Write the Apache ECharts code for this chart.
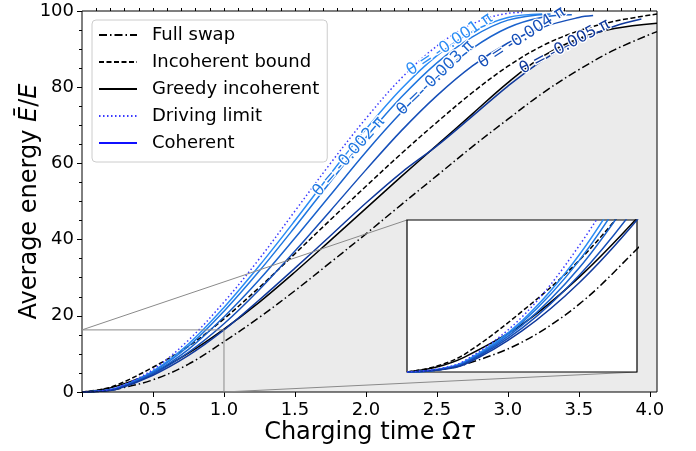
<!DOCTYPE html>
<html>
<head>
<meta charset="utf-8">
<script src="https://cdn.jsdelivr.net/npm/echarts@6/dist/echarts.min.js"></script>
<style>
  html, body { margin: 0; padding: 0; background: #fff; }
  #chart { width: 696px; height: 451px; }
</style>
</head>
<body>
<div id="chart"></div>
<script>
// values, [charging time, average energy %]
var fullSwap = [[0,0],[0.125,0.2],[0.25,0.8],[0.5,3.2],[0.75,7.3],[1,13.2],[1.25,19.6],[1.5,26.6],[1.75,34],[2,41.5],[2.25,49.2],[2.5,56.8],[2.75,64.4],[3,71.6],[3.25,78.6],[3.5,84.6],[3.75,89.8],[4.05,94.6]];
var incoherentBound = [[0,0],[0.125,0.6],[0.25,1.9],[0.5,6.5],[0.75,12],[1,19.2],[1.25,27.5],[1.5,36.3],[1.75,45.2],[2,54],[2.25,62.6],[2.5,70.8],[2.75,78.6],[3,85.5],[3.25,91],[3.5,94.8],[3.75,97.3],[4.05,99.2]];
var greedyIncoherent = [[0,0],[0.125,0.5],[0.25,1.6],[0.5,5.1],[0.75,10.2],[1,16.5],[1.25,23.6],[1.5,31.5],[1.75,39.8],[2,48.2],[2.25,56.6],[2.5,64.8],[2.75,73],[3,81.2],[3.25,88.2],[3.5,92.8],[3.75,95.4],[4.05,96.8]];
var drivingLimit = [[0,0],[0.125,0.3],[0.25,1.2],[0.5,5.9],[0.75,13.6],[1,23.6],[1.25,35],[1.5,47.5],[1.75,60],[2,71.8],[2.25,82.4],[2.5,90.8],[2.75,96.6],[3,99.4],[3.1,99.6]];
var coh001 = [[0,0],[0.125,0.25],[0.25,1.1],[0.5,5.5],[0.75,12.6],[1,22.2],[1.25,33.2],[1.5,45],[1.75,57.2],[2,69],[2.25,79.6],[2.5,88.3],[2.75,94.6],[3,98.3],[3.24,99.2]];
var coh002 = [[0,0],[0.125,0.25],[0.25,1.0],[0.5,5.3],[0.75,12],[1,21.2],[1.25,31.8],[1.5,43.3],[1.75,55.2],[2,66.8],[2.25,77.4],[2.5,86.4],[2.75,93.2],[3,97.6],[3.3,99.2]];
var coh003 = [[0,0],[0.125,0.2],[0.25,0.95],[0.5,5],[0.75,11.2],[1,19.7],[1.25,29.5],[1.5,40.4],[1.75,51.7],[2,63],[2.25,73.4],[2.5,82.6],[2.75,90.2],[3,95.6],[3.25,98.4],[3.45,99]];
var coh004 = [[0,0],[0.125,0.2],[0.25,0.9],[0.5,4.7],[0.75,10.4],[1,17.9],[1.25,26.9],[1.5,37],[1.75,47.6],[2,58.3],[2.25,68.6],[2.5,77.8],[2.75,85.6],[3,91.6],[3.25,95.8],[3.5,98.3],[3.6,98.8]];
var coh005 = [[0,0],[0.125,0.2],[0.25,0.8],[0.5,4.4],[0.75,9.6],[1,16.3],[1.25,24.2],[1.5,32.5],[1.75,41],[2,49.6],[2.25,57.6],[2.5,64.6],[2.75,72.4],[3,80.3],[3.25,87.2],[3.5,92.3],[3.75,96],[3.94,97.9]];

var cohNames = ['θ = -0.001 π', 'θ = -0.002 π', 'θ = -0.003 π', 'θ = -0.004 π', 'θ = -0.005 π'];
var cohColors = ['#2a8cf5', '#1f77e0', '#1a62cc', '#164fb8', '#10399c'];
// where each curve label sits, and its angle
var cohLabelAt = [[2.59, 91.2], [1.88, 61.8], [2.49, 82.4], [3.10, 93.0], [3.40, 90.6]];
var cohLabelAngle = [34, 49, 44, 33, 28];

var xTicks = [0, 0.5, 1.0, 1.5, 2.0, 2.5, 3.0, 3.5, 4.0];
var xTickLabels = [0.5, 1.0, 1.5, 2.0, 2.5, 3.0, 3.5, 4.0];
var xMax = 4.05;
var insetXMax = 1;
var insetYMax = 16.3;

var xMinor = [];
for (var i = 1; i <= 40; i++) xMinor.push(i / 10);

var FONT = 'DejaVu Sans';
var dashDot = [8, 3, 1.5, 3];

function lineSeries(name, data, color, type, axis, extra) {
	var s = {
		name: name,
		type: 'line',
		data: data,
		xAxisIndex: axis,
		yAxisIndex: axis,
		symbol: 'none',
		smooth: 0.35,
		z: axis === 1 ? 6 : 2,
		lineStyle: { color: color, width: 1.5, type: type },
		itemStyle: { color: color },
	};
	for (var k in extra) s[k] = extra[k];
	return s;
}

var series = [];
// grey area under greedy incoherent
series.push({
	name: 'greedy-fill',
	type: 'line',
	data: greedyIncoherent,
	symbol: 'none',
	smooth: 0.35,
	xAxisIndex: 0,
	yAxisIndex: 0,
	z: 1,
	lineStyle: { width: 0 },
	areaStyle: { color: '#ebebeb', opacity: 1 },
});

[0, 1].forEach(function (ax) {
	var tag = ax === 1 ? 'inset ' : '';
	series.push(lineSeries(tag + 'Full swap', fullSwap, '#000', dashDot, ax));
	series.push(lineSeries(tag + 'Incoherent bound', incoherentBound, '#000', [5, 2.5], ax));
	series.push(lineSeries(tag + 'Greedy incoherent', greedyIncoherent, '#000', 'solid', ax));
	var cohData = [coh001, coh002, coh003, coh004, coh005];
	cohData.forEach(function (d, j) {
		var extra = {};
		if (ax === 0) {
			extra.markPoint = {
				symbol: 'circle',
				symbolSize: 0,
				itemStyle: { color: 'rgba(0,0,0,0)' },
				data: [{ coord: cohLabelAt[j] }],
				label: {
					show: true,
					position: 'inside',
					formatter: cohNames[j],
					rotate: cohLabelAngle[j],
					color: cohColors[j],
					fontFamily: FONT,
					fontSize: 16,
					textBorderColor: '#fff',
					textBorderWidth: 2.5,
				},
			};
		}
		series.push(lineSeries(tag + cohNames[j], d, cohColors[j], 'solid', ax, extra));
	});
	series.push(lineSeries(tag + 'Driving limit', drivingLimit, '#3a3aff', [1.5, 2.5], ax));
});

// legend-only entry
series.push({ name: 'Coherent', type: 'line', data: [], symbol: 'none', lineStyle: { color: '#1010ff', width: 1.5 }, itemStyle: { color: '#1010ff' } });

// inset box on the main axes
series.push({
	name: 'inset-box',
	type: 'line',
	data: [[0, insetYMax], [insetXMax, insetYMax], [insetXMax, 0]],
	symbol: 'none',
	xAxisIndex: 0,
	yAxisIndex: 0,
	z: 3,
	lineStyle: { color: '#8a8a8a', width: 1 },
});

var tickText = { color: '#000', fontFamily: FONT, fontSize: 18 };
var titleText = { color: '#000', fontFamily: FONT, fontSize: 24, rich: { i: { fontStyle: 'italic', fontFamily: FONT, fontSize: 24, color: '#000' } } };

var option = {
	animation: false,
	textStyle: { fontFamily: FONT },
	grid: [
		{ left: 82, top: 11, width: 575, height: 381, show: true, z: 3, backgroundColor: 'rgba(0,0,0,0)', borderColor: '#000', borderWidth: 1 },
		{ left: 407, top: 220, width: 230, height: 152, show: true, z: 5, backgroundColor: '#fff', borderColor: '#000', borderWidth: 1.2 },
	],
	legend: {
		orient: 'vertical',
		left: 92,
		top: 20,
		padding: [5, 8, 9, 6],
		itemWidth: 38,
		itemHeight: 12,
		itemGap: 7,
		selectedMode: false,
		backgroundColor: 'rgba(255,255,255,0.8)',
		borderColor: '#cccccc',
		borderWidth: 1,
		borderRadius: 4,
		itemStyle: { color: 'rgba(0,0,0,0)', borderWidth: 0, opacity: 0 },
		textStyle: { fontFamily: FONT, fontSize: 18, color: '#000', lineHeight: 20, padding: [0, 0, 0, 10] },
		data: ['Full swap', 'Incoherent bound', 'Greedy incoherent', 'Driving limit', 'Coherent'],
	},
	xAxis: [
		{
			type: 'value', gridIndex: 0, min: 0, max: xMax, z: 3,
			axisLine: { show: false },
			axisTick: { show: true, length: 5, customValues: xTicks, lineStyle: { color: '#000' } },
			axisLabel: Object.assign({ customValues: xTickLabels, margin: 9, formatter: function (v) { return v.toFixed(1); } }, tickText),
			splitLine: { show: false },
			name: 'Charging time Ω{i|τ}',
			nameLocation: 'middle',
			nameGap: 29,
			nameMoveOverlap: false,
			nameTextStyle: titleText,
		},
		{
			type: 'value', gridIndex: 1, min: 0, max: insetXMax, z: 7,
			axisLine: { show: false }, axisTick: { show: false }, axisLabel: { show: false }, splitLine: { show: false },
		},
		{
			type: 'value', gridIndex: 0, min: 0, max: xMax, z: 3,
			axisLine: { show: false },
			axisTick: { show: true, length: 3, customValues: xMinor, lineStyle: { color: '#000' } },
			axisLabel: { show: false }, splitLine: { show: false },
		},
	],
	yAxis: [
		{
			type: 'value', gridIndex: 0, min: 0, max: 100, interval: 20, z: 3,
			axisLine: { show: false },
			axisTick: { show: true, length: 5, lineStyle: { color: '#000' } },
			minorTick: { show: true, splitNumber: 4, length: 3, lineStyle: { color: '#000' } },
			axisLabel: Object.assign({ margin: 8 }, tickText),
			splitLine: { show: false },
			name: 'Average energy {i|Ē}/{i|E}',
			nameLocation: 'middle',
			nameGap: 40,
			nameMoveOverlap: false,
			nameTextStyle: titleText,
		},
		{
			type: 'value', gridIndex: 1, min: 0, max: insetYMax, z: 7,
			axisLine: { show: false }, axisTick: { show: false }, axisLabel: { show: false }, splitLine: { show: false },
		},
	],
	series: series,
};

var chart = echarts.init(document.getElementById('chart'));
chart.setOption(option);

// connector lines between the marked region and the inset
var a1 = chart.convertToPixel({ xAxisIndex: 0, yAxisIndex: 0 }, [0, insetYMax]);
var b1 = chart.convertToPixel({ xAxisIndex: 1, yAxisIndex: 1 }, [0, insetYMax]);
var a2 = chart.convertToPixel({ xAxisIndex: 0, yAxisIndex: 0 }, [insetXMax, 0]);
var b2 = chart.convertToPixel({ xAxisIndex: 1, yAxisIndex: 1 }, [insetXMax, 0]);
chart.setOption({
	graphic: [
		{ type: 'line', z: 4, silent: true, shape: { x1: a1[0], y1: a1[1], x2: b1[0], y2: b1[1] }, style: { stroke: '#8a8a8a', lineWidth: 1 } },
		{ type: 'line', z: 4, silent: true, shape: { x1: a2[0], y1: a2[1], x2: b2[0], y2: b2[1] }, style: { stroke: '#8a8a8a', lineWidth: 1 } },
	],
});
</script>
</body>
</html>
